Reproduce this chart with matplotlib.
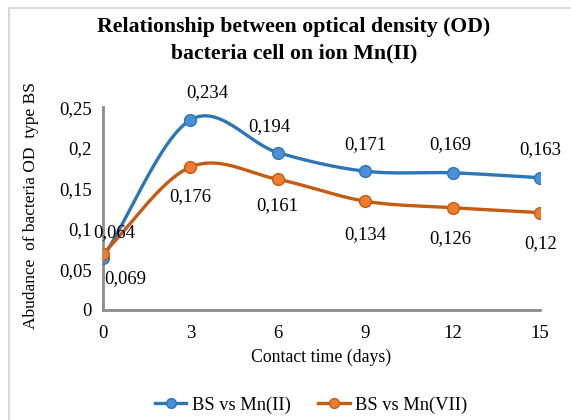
import numpy as np
import matplotlib
matplotlib.use("Agg")
import matplotlib.pyplot as plt
from matplotlib.patches import Rectangle

plt.rcParams['font.family'] = ['Liberation Serif', 'DejaVu Serif']

days = [0, 3, 6, 9, 12, 15]
mn2 = [0.064, 0.234, 0.194, 0.171, 0.169, 0.163]
mn7 = [0.069, 0.176, 0.161, 0.134, 0.126, 0.120]
mn2_labels = ["0,064", "0,234", "0,194", "0,171", "0,169", "0,163"]
mn7_labels = ["0,069", "0,176", "0,161", "0,134", "0,126", "0,12"]
yticks = [0, 0.05, 0.1, 0.15, 0.2, 0.25]
ytick_labels = ["0", "0,05", "0,1", "0,15", "0,2", "0,25"]
xticks = [0, 3, 6, 9, 12, 15]

def smooth(x, y, n=30, t=0.5):
    x = np.asarray(x, float); y = np.asarray(y, float)
    px = np.concatenate([[2*x[0]-x[1]], x, [2*x[-1]-x[-2]]])
    py = np.concatenate([[2*y[0]-y[1]], y, [2*y[-1]-y[-2]]])
    xs, ys = [], []
    for i in range(1, len(px)-2):
        p0, p1, p2, p3 = [np.array([px[j], py[j]]) for j in range(i-1, i+3)]
        m1 = t*(p2-p0); m2 = t*(p3-p1)
        s = np.linspace(0, 1, n)[:, None]
        h00 = 2*s**3-3*s**2+1; h10 = s**3-2*s**2+s
        h01 = -2*s**3+3*s**2; h11 = s**3-s**2
        pts = h00*p1 + h10*m1 + h01*p2 + h11*m2
        xs.extend(pts[:, 0]); ys.extend(pts[:, 1])
    return np.array(xs), np.array(ys)

fig = plt.figure(figsize=(5.71, 4.20), dpi=100)
ax = fig.add_axes([0.180, 0.262, 0.766, 0.483])

c_blue, f_blue = '#2E75B6', '#4A8FD8'
c_or, f_or = '#C55A11', '#ED7D31'

sx, sy = smooth(days, mn2)
ax.plot(sx, sy, color=c_blue, lw=2.4, zorder=3)
ax.plot(days, mn2, 'o', color=f_blue, mec=c_blue, ms=8.5, mew=1, zorder=4)
sx, sy = smooth(days, mn7)
ax.plot(sx, sy, color=c_or, lw=2.4, zorder=3)
ax.plot(days, mn7, 'o', color=f_or, mec=c_or, ms=8.5, mew=1, zorder=4)

# legend proxies
ax.plot([], [], '-o', color=c_blue, mfc=f_blue, mec=c_blue, ms=7, lw=2.4, label='BS vs Mn(II)')
ax.plot([], [], '-o', color=c_or, mfc=f_or, mec=c_or, ms=7, lw=2.4, label='BS vs Mn(VII)')

fs = 13.5
# data labels (offsets in points)
up_off = [(8, 18), (12, 20), (-6, 19), (0, 19), (-2, 20), (0, 20)]
dn_off = [(16, -18), (0, -21), (0, -19), (0, -24), (-2, -22), (0, -22)]
for (x, y, lab), off in zip(zip(days, mn2, mn2_labels), up_off):
    ax.annotate(lab, (x, y), xytext=off, textcoords='offset points', ha='center', va='center',
                fontsize=fs, annotation_clip=False)
for (x, y, lab), off in zip(zip(days, mn7, mn7_labels), dn_off):
    ax.annotate(lab, (x, y), xytext=off, textcoords='offset points', ha='center', va='center',
                fontsize=fs, annotation_clip=False)

ax.set_xlim(0, 15)
ax.set_ylim(0, 0.25)
ax.set_xticks(xticks)
ax.set_xticklabels([str(v) for v in xticks], fontsize=fs)
ax.set_yticks(yticks)
ax.set_yticklabels(ytick_labels, fontsize=fs)
ax.tick_params(axis='y', length=0, pad=8)
ax.tick_params(axis='x', length=0, pad=11)
for s in ['top', 'right']:
    ax.spines[s].set_visible(False)
for s in ['left', 'bottom']:
    ax.spines[s].set_color('#8c8c8c')
    ax.spines[s].set_linewidth(2)
ax.patch.set_visible(False)

ax.set_xlabel('Contact time (days)', fontsize=12.8, labelpad=5)
fig.text(0.055, 0.51, 'Abudance  of bacteria OD  type BS', rotation=90, ha='center', va='center',
         fontsize=12.5)

fig.text(0.515, 0.935, 'Relationship between optical density (OD)', ha='center', va='center',
         fontsize=15.7, fontweight='bold')
fig.text(0.515, 0.873, 'bacteria cell on ion Mn(II)', ha='center', va='center',
         fontsize=15.7, fontweight='bold')

fig.legend(loc='center', bbox_to_anchor=(0.545, 0.035), ncol=2, frameon=False, fontsize=13.3,
           handlelength=1.7, columnspacing=1.5, handletextpad=0.3)

fig.patches.append(Rectangle((9/571, -0.1), 1.0, 1.1 - 8/420, transform=fig.transFigure,
                             fill=False, edgecolor='#d9d9d9', lw=1.5))

fig.savefig('out.png', dpi=100)
